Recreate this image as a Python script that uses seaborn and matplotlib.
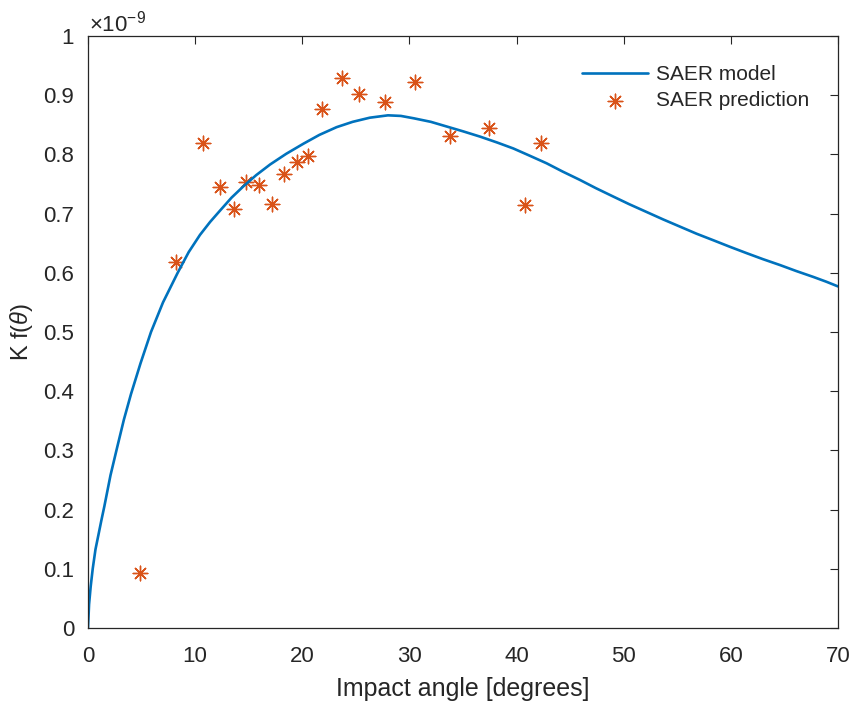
import matplotlib
matplotlib.use("Agg")
import matplotlib.pyplot as plt
import seaborn as sns
import pandas as pd

# SAER model curve (values in units of 1e-9)
model_angle = [0, 0.1, 0.25, 0.44, 0.7, 0.97, 1.25, 1.52, 2.1, 2.72, 3.35, 4.01,
               4.9, 5.88, 7.0, 8.37, 9.4, 10.45, 11.4, 12.32, 13.4, 14.5, 15.7,
               17.0, 18.5, 20.1, 21.6, 23.2, 24.7, 26.3, 28.0, 29.2, 30.4, 32.0,
               33.5, 35.0, 36.6, 38.2, 39.7, 41.2, 42.8, 44.3, 45.9, 47.4, 49.0,
               50.5, 52.1, 53.7, 55.25, 56.8, 58.36, 59.9, 61.5, 63.0, 64.6, 66.1,
               67.7, 68.9, 70.0]
model_value = [0, 0.04, 0.07, 0.10, 0.133, 0.157, 0.182, 0.205, 0.258, 0.305, 0.352, 0.395,
               0.447, 0.50, 0.55, 0.60, 0.635, 0.664, 0.686, 0.705, 0.727, 0.746, 0.765,
               0.783, 0.801, 0.818, 0.833, 0.846, 0.855, 0.862, 0.866, 0.865, 0.861, 0.855,
               0.847, 0.839, 0.830, 0.820, 0.810, 0.798, 0.785, 0.771, 0.757, 0.743, 0.729,
               0.716, 0.703, 0.690, 0.678, 0.666, 0.655, 0.644, 0.633, 0.623, 0.613, 0.603,
               0.593, 0.585, 0.577]

# SAER prediction points (values in units of 1e-9)
pred_angle = [4.85, 8.21, 10.73, 12.32, 13.63, 14.75, 15.96, 17.17, 18.29, 19.5,
              20.53, 21.84, 23.7, 25.3, 27.7, 30.5, 33.8, 37.4, 40.8, 42.3]
pred_value = [0.093, 0.618, 0.819, 0.745, 0.708, 0.753, 0.748, 0.716, 0.767, 0.787,
              0.797, 0.877, 0.929, 0.902, 0.889, 0.922, 0.831, 0.845, 0.715, 0.819]

x_ticks = [0, 10, 20, 30, 40, 50, 60, 70]
y_ticks = [0, 0.1, 0.2, 0.3, 0.4, 0.5, 0.6, 0.7, 0.8, 0.9, 1.0]
y_tick_labels = ["0", "0.1", "0.2", "0.3", "0.4", "0.5", "0.6", "0.7", "0.8", "0.9", "1"]

sns.set_theme(style="white")
plt.rcParams["font.family"] = ["Liberation Sans", "DejaVu Sans"]
plt.rcParams["mathtext.fontset"] = "custom"
plt.rcParams["mathtext.it"] = "Liberation Sans:italic"
plt.rcParams["mathtext.rm"] = "Liberation Sans"

text_color = "#262626"
blue = "#0072BD"
orange = "#D95319"

fig = plt.figure(figsize=(8.54, 7.03), dpi=100)
ax = fig.add_axes([88/854, 1 - 628/703, (838-88)/854, (628-36)/703])

df_model = pd.DataFrame({"angle": model_angle, "value": model_value})
df_pred = pd.DataFrame({"angle": pred_angle, "value": pred_value})

sns.lineplot(data=df_model, x="angle", y="value", ax=ax, color=blue, linewidth=1.9,
             label="SAER model", sort=False, estimator=None)
sns.scatterplot(data=df_pred, x="angle", y="value", ax=ax, marker=(8, 2, 0), s=110,
                color=orange, edgecolor=orange, linewidth=1.0, label="SAER prediction")

ax.set_xlim(0, 70)
ax.set_ylim(0, 1)
ax.set_xticks(x_ticks)
ax.set_yticks(y_ticks)
ax.set_yticklabels(y_tick_labels)
ax.tick_params(direction="in", length=6, width=0.8, top=True, right=True,
               labelsize=16, colors=text_color)
ax.tick_params(axis="y", pad=10)
ax.tick_params(axis="x", pad=13)
for sp in ax.spines.values():
    sp.set_color(text_color)
    sp.set_linewidth(0.9)
    sp.set_visible(True)

ax.set_xlabel("Impact angle [degrees]", fontsize=18, color=text_color, labelpad=7)
ax.set_ylabel(r"K f($\theta$)", fontsize=17, color=text_color, labelpad=6)

ax.text(0.002, 1.0, r"$\times$10$^{-9}$", transform=ax.transAxes, fontsize=16,
        color=text_color, ha="left", va="bottom")

leg = ax.legend(loc="upper right", frameon=False, fontsize=15, handlelength=3.2,
                borderaxespad=1.0, labelspacing=0.35, handletextpad=0.35)
for t in leg.get_texts():
    t.set_color(text_color)

fig.savefig("out.png", dpi=100)
